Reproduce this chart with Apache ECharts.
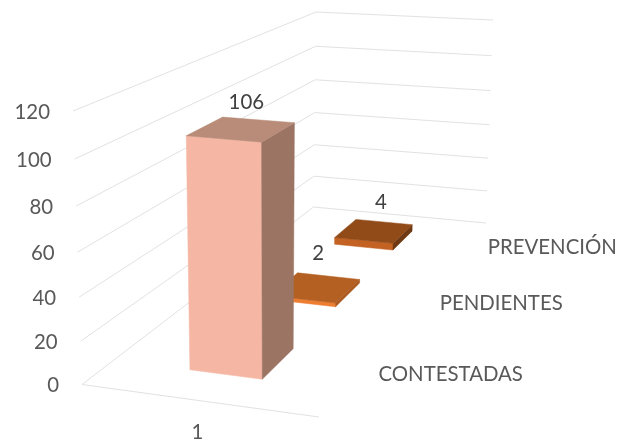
<!DOCTYPE html>
<html>
<head>
<meta charset="utf-8">
<style>
  html, body { margin: 0; padding: 0; background: #fff; }
  #myCharts { width: 617px; height: 442px; }
</style>
<script src="https://cdn.jsdelivr.net/npm/echarts@6/dist/echarts.min.js"></script>
</head>
<body>
<div id="myCharts"></div>
<script>
// data
const categories = ["CONTESTADAS", "PENDIENTES", "PREVENCIÓN"];
const values = [106, 2, 4];
const yTicks = [0, 20, 40, 60, 80, 100, 120];
const seriesName = "1";

// colours per bar: front, side, top
const frontColors = ["#F5B7A4", "#ED7D31", "#C46224"];
const sideColors = ["#9C7464", "#A9591F", "#6F3A13"];
const topColors = ["#B88C79", "#B46022", "#904B19"];
// where each data label sits relative to the top of its bar
const labelOffsets = [[5, -27], [2, -34], [7, -29]];

const FONT = '20.4px Lato, "Open Sans", sans-serif';

// corners of the 3d box on screen: front-left, front-right, back-right, back-left
const floorQuad = [[82, 384.5], [319, 417], [486, 223], [313.5, 207]];
const roofQuad = [[73, 111], [322, 132], [493, 20], [316, 12]];
const heightBias = 1.066; // perspective along the vertical
const barLeft = 0.343, barRight = 0.66, barDepth = 0.39;

// unit square to quad (plain homography)
function squareToQuad(q) {
  const dx1 = q[1][0] - q[2][0], dx2 = q[3][0] - q[2][0];
  const dy1 = q[1][1] - q[2][1], dy2 = q[3][1] - q[2][1];
  const sx = q[0][0] - q[1][0] + q[2][0] - q[3][0];
  const sy = q[0][1] - q[1][1] + q[2][1] - q[3][1];
  const den = dx1 * dy2 - dx2 * dy1;
  const g = (sx * dy2 - dx2 * sy) / den;
  const h = (dx1 * sy - sx * dy1) / den;
  return function (u, w) {
    const d = g * u + h * w + 1;
    return [
      ((q[1][0] - q[0][0] + g * q[1][0]) * u + (q[3][0] - q[0][0] + h * q[3][0]) * w + q[0][0]) / d,
      ((q[1][1] - q[0][1] + g * q[1][1]) * u + (q[3][1] - q[0][1] + h * q[3][1]) * w + q[0][1]) / d
    ];
  };
}
const floorAt = squareToQuad(floorQuad);
const roofAt = squareToQuad(roofQuad);

// u across, v up (0-1 from the value axis), w into the picture
function project(u, v, w) {
  const a = floorAt(u, w), b = roofAt(u, w);
  const t = v / (v + (1 - v) * heightBias);
  return [a[0] + (b[0] - a[0]) * t, a[1] + (b[1] - a[1]) * t];
}

const myCharts = echarts.init(document.getElementById("myCharts"));

function line(points) {
  return {
    type: "polyline",
    shape: { points: points },
    style: { stroke: "#E2E2E2", lineWidth: 1, fill: null },
    silent: true
  };
}
function face(points, color) {
  return { type: "polygon", shape: { points: points }, style: { fill: color, stroke: color, lineWidth: 0.5 } };
}
function label(text, x, y, align, color) {
  return {
    type: "text",
    style: { text: text, x: x, y: y, font: FONT, fill: color, textAlign: align, textVerticalAlign: "middle" }
  };
}

function renderTick(params, api) {
  const area = params.coordSys;
  const val = api.value(1);
  const v = (area.y + area.height - api.coord([0, val])[1]) / area.height;
  const start = project(0, v, 0);
  const children = [
    line([start, project(0, v, 1), project(1, v, 1)]),
    label(String(val), start[0] - 23, start[1] + 1, "right", "#595959")
  ];
  if (val === 0) {
    children.push(line([project(0, 0, 0), project(1, 0, 0)]));
    children.push(label(seriesName, project(0.5, 0, 0)[0], project(0.5, 0, 0)[1] + 32, "center", "#595959"));
  }
  return { type: "group", children: children };
}

function renderBar(params, api) {
  const area = params.coordSys;
  const i = api.value(0);
  const val = api.value(1);
  const p = api.coord([i, val]);
  const v = (area.y + area.height - p[1]) / area.height;
  const w = (p[0] - area.x) / area.width;
  const half = api.size([1, 0])[0] / area.width * barDepth / 2;
  const w0 = w - half, w1 = w + half;
  const l = barLeft, r = barRight;
  const centre = project((l + r) / 2, v, w);
  const edge = floorAt(1, w);
  return {
    type: "group",
    children: [
      face([project(l, 0, w0), project(r, 0, w0), project(r, v, w0), project(l, v, w0)], frontColors[i]),
      face([project(r, 0, w0), project(r, 0, w1), project(r, v, w1), project(r, v, w0)], sideColors[i]),
      face([project(l, v, w0), project(r, v, w0), project(r, v, w1), project(l, v, w1)], topColors[i]),
      label(String(val), centre[0] + labelOffsets[i][0], centre[1] + labelOffsets[i][1], "center", "#404040"),
      label(categories[i], edge[0] + 22, edge[1] + 1, "left", "#595959")
    ]
  };
}

const option = {
  backgroundColor: "#fff",
  animation: false,
  tooltip: { show: false },
  grid: { left: 0, right: 0, top: 0, bottom: 0 },
  xAxis: { type: "category", data: categories, show: false },
  yAxis: { type: "value", min: 0, max: 120, interval: 20, show: false },
  series: [
    {
      type: "custom",
      renderItem: renderTick,
      clip: false,
      data: yTicks.map(function (t) { return [0, t]; })
    },
    {
      // back bars first so the front one covers them
      type: "custom",
      renderItem: renderBar,
      clip: false,
      z: 3,
      data: values.map(function (val, i) { return [i, val]; }).reverse()
    }
  ]
};
myCharts.setOption(option);
</script>
</body>
</html>
